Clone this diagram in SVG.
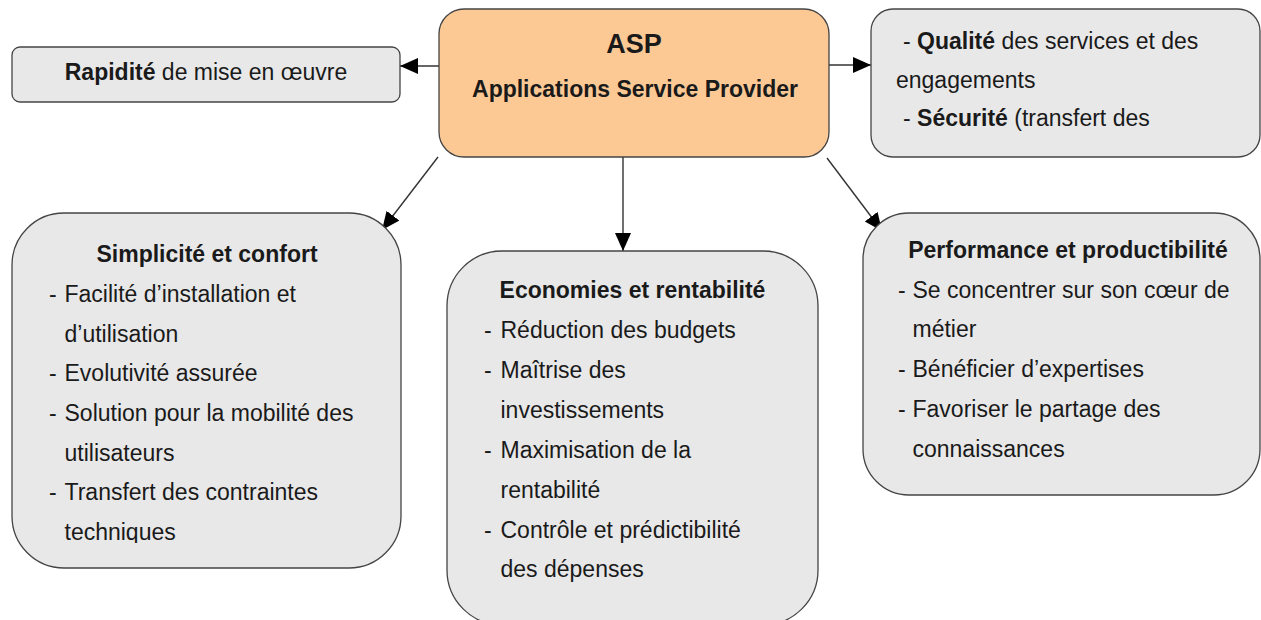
<svg xmlns="http://www.w3.org/2000/svg" width="1261" height="620" viewBox="0 0 1261 620">
<style>
.box{fill:#E8E8E8;stroke:#444;stroke-width:1.3}
.asp{fill:#FCC995;stroke:#444;stroke-width:1.3}
text{font-family:"Liberation Sans",Arial,sans-serif;font-size:23px;fill:#1a1a1a}
.b{font-weight:bold}
.c{text-anchor:middle}
.conn{stroke:#333;stroke-width:1.4;fill:none;marker-end:url(#ah)}
</style>
<defs>
<marker id="ah" markerUnits="userSpaceOnUse" markerWidth="20" markerHeight="18" refX="18" refY="8" orient="auto">
<path d="M0,0 L18,8 L0,16 z" fill="#000"/>
</marker>
<clipPath id="clipS"><rect x="0" y="0" width="420" height="543"/></clipPath>
</defs>
<rect width="1261" height="620" fill="#fff"/>
<g id="connectors">
<line class="conn" x1="439" y1="66" x2="400" y2="66"/>
<line class="conn" x1="829" y1="65" x2="871" y2="65"/>
<line class="conn" x1="623" y1="157" x2="623" y2="251"/>
<line class="conn" x1="438" y1="157" x2="382" y2="230"/>
<line class="conn" x1="827" y1="158" x2="882" y2="231"/>
</g>
<g id="asp">
<rect class="asp" x="439" y="9" width="390" height="148" rx="25"/>
<text class="b c" x="634" y="53" style="font-size:27px">ASP</text>
<text class="b c" x="635" y="97">Applications Service Provider</text>
</g>
<g id="rapidite">
<rect class="box" x="12" y="47" width="388" height="55" rx="8"/>
<text class="c" x="206" y="80"><tspan class="b">Rapidité</tspan> de mise en œuvre</text>
</g>
<g id="qualite">
<rect class="box" x="871" y="9" width="389" height="148" rx="22"/>
<text x="903" y="49">- <tspan class="b">Qualité</tspan> des services et des</text>
<text x="896" y="88">engagements</text>
<text x="903" y="126">- <tspan class="b">Sécurité</tspan> (transfert des</text>
</g>
<g id="simplicite">
<rect class="box" x="12" y="213" width="389" height="355" rx="52"/>
<text class="b c" x="207" y="262">Simplicité et confort</text>
<g>
<text x="49" y="302">-</text><text x="64.5" y="302">Facilité d’installation et</text>
<text x="64.5" y="342">d’utilisation</text>
<text x="49" y="381">-</text><text x="64.5" y="381">Evolutivité assurée</text>
<text x="49" y="421">-</text><text x="64.5" y="421">Solution pour la mobilité des</text>
<text x="64.5" y="461">utilisateurs</text>
<text x="49" y="500">-</text><text x="64.5" y="500">Transfert des contraintes</text>
<text x="64.5" y="540" clip-path="url(#clipS)">techniques</text>
</g>
</g>
<g id="economies">
<rect class="box" x="447" y="251" width="371" height="374" rx="55"/>
<text class="b c" x="632.5" y="298">Economies et rentabilité</text>
<text x="484" y="338">-</text><text x="500.5" y="338">Réduction des budgets</text>
<text x="484" y="378">-</text><text x="500.5" y="378">Maîtrise des</text>
<text x="500.5" y="418">investissements</text>
<text x="484" y="458">-</text><text x="500.5" y="458">Maximisation de la</text>
<text x="500.5" y="498">rentabilité</text>
<text x="484" y="538">-</text><text x="500.5" y="538">Contrôle et prédictibilité</text>
<text x="500.5" y="577">des dépenses</text>
</g>
<g id="performance">
<rect class="box" x="863" y="213" width="397" height="282" rx="46"/>
<text class="b c" x="1068" y="258">Performance et productibilité</text>
<text x="898" y="298">-</text><text x="912.5" y="298">Se concentrer sur son cœur de</text>
<text x="912.5" y="337">métier</text>
<text x="898" y="377">-</text><text x="912.5" y="377">Bénéficier d’expertises</text>
<text x="898" y="417">-</text><text x="912.5" y="417">Favoriser le partage des</text>
<text x="912.5" y="457">connaissances</text>
</g>
</svg>
